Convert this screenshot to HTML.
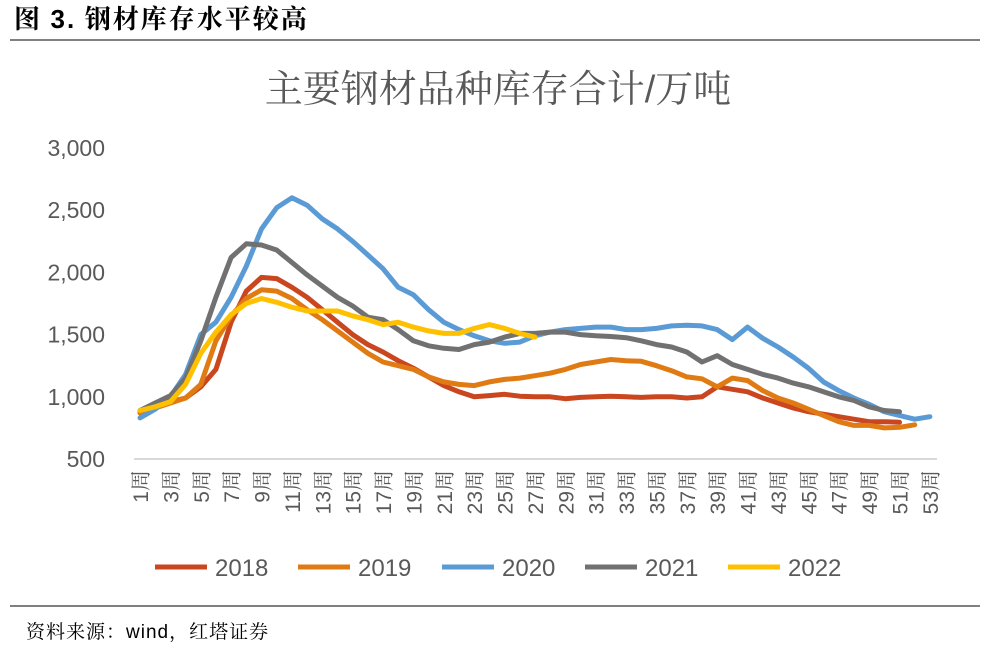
<!DOCTYPE html>
<html><head><meta charset="utf-8">
<style>
body{margin:0;background:#fff;width:989px;height:648px;overflow:hidden;font-family:"Liberation Sans","Noto Sans CJK SC",sans-serif;}
</style></head><body>
<svg id="s" width="989" height="648" xmlns="http://www.w3.org/2000/svg" style="position:absolute;left:0;top:0">
<text x="14" y="28" font-size="26" font-weight="bold" fill="#000" letter-spacing="2" font-family="Liberation Serif,Noto Serif CJK SC,serif">图 <tspan font-family="Liberation Sans,sans-serif">3.</tspan> 钢材库存水平较高</text>
<line x1="10" y1="40" x2="980" y2="40" stroke="#000" stroke-width="1"/>
<text x="498" y="102" font-size="38" fill="#595959" text-anchor="middle" font-family="Liberation Sans,Noto Serif CJK SC,serif">主要钢材品种库存合计/万吨</text>
<line x1="134" y1="459" x2="937" y2="459" stroke="#d9d9d9" stroke-width="2"/>
<line x1="10" y1="606" x2="980" y2="606" stroke="#000" stroke-width="1"/>
<text x="26" y="638" font-size="19" fill="#000" letter-spacing="1" font-family="Liberation Sans,Noto Serif CJK SC,serif">资料来源：wind，红塔证券</text>
<g id="g"></g>
</svg>
<script>
const g=document.getElementById('g');let h='';
const Y=v=>459-(v-500)*0.1244, X=w=>140+(w-1)*15.19;
[3000,2500,2000,1500,1000,500].forEach(v=>{h+=`<text x="105" y="${Y(v)+8}" font-size="23" fill="#595959" text-anchor="end">${v.toLocaleString('en-US')}</text>`;});
for(let w=1;w<=53;w+=2){const x=X(w)+8;h+=`<text transform="translate(${x},470) rotate(-90)" font-size="21" fill="#595959" text-anchor="end" font-family="Liberation Sans,Noto Serif CJK SC,serif">${w}周</text>`;}
const S=[
['#c9461f',[880,920,960,990,1080,1220,1600,1850,1960,1950,1880,1800,1700,1600,1500,1420,1360,1290,1230,1160,1090,1040,1000,1010,1020,1005,1000,1000,985,995,1000,1005,1000,995,1000,1000,990,1000,1080,1060,1040,990,950,910,880,860,840,820,800,800,795]],
['#e07b14',[870,910,950,990,1100,1450,1650,1790,1860,1850,1790,1700,1620,1530,1440,1350,1280,1250,1220,1160,1120,1100,1090,1120,1140,1150,1170,1190,1220,1260,1280,1300,1290,1285,1250,1210,1160,1145,1080,1150,1130,1050,990,950,900,850,800,770,770,750,755,775]],
['#5b9bd5',[830,900,1000,1180,1500,1600,1800,2050,2350,2520,2600,2540,2430,2350,2250,2140,2030,1880,1820,1700,1600,1540,1490,1450,1430,1440,1490,1520,1540,1550,1560,1560,1540,1540,1550,1570,1575,1570,1540,1460,1560,1470,1400,1320,1230,1120,1050,990,940,880,850,820,840]],
['#717171',[890,950,1010,1150,1450,1800,2120,2230,2220,2180,2080,1980,1890,1800,1730,1640,1620,1540,1450,1410,1390,1380,1420,1440,1480,1510,1510,1520,1520,1500,1490,1485,1475,1450,1420,1400,1360,1280,1330,1260,1220,1180,1150,1110,1080,1040,1000,970,920,890,880]],
['#ffc000',[890,920,960,1100,1350,1520,1660,1750,1790,1760,1720,1690,1690,1690,1650,1620,1580,1600,1560,1530,1510,1510,1550,1580,1550,1510,1480]]];
S.forEach(([c,d])=>{h+=`<polyline fill="none" stroke="${c}" stroke-width="5" stroke-linejoin="round" stroke-linecap="round" points="${d.map((v,i)=>X(i+1).toFixed(1)+','+Y(v).toFixed(1)).join(' ')}"/>`;});
const L=[['#c9461f','2018',155],['#e07b14','2019',298],['#5b9bd5','2020',442],['#717171','2021',585],['#ffc000','2022',728]];
L.forEach(([c,t,x])=>{h+=`<line x1="${x}" y1="567" x2="${x+52}" y2="567" stroke="${c}" stroke-width="5"/><text x="${x+60}" y="576" font-size="24" fill="#595959">${t}</text>`;});
g.innerHTML=h;
</script>
</body></html>
